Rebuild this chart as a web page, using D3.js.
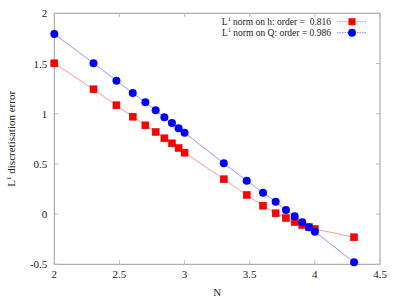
<!DOCTYPE html>
<html><head><meta charset="utf-8">
<script src="https://cdn.jsdelivr.net/npm/d3@7"></script>
<style>body{margin:0;background:#fff}svg{display:block}</style>
</head><body><svg id="c" width="400" height="300" font-family="'Liberation Serif', 'DejaVu Serif', Times, serif"></svg>
<script>
const logN = [2, 2.301, 2.477, 2.602, 2.699, 2.778, 2.845, 2.903, 2.954, 3, 3.301, 3.477, 3.602, 3.699, 3.778, 3.845, 3.903, 3.954, 4, 4.301];
const errH = [1.502, 1.243, 1.084, 0.97, 0.884, 0.818, 0.755, 0.705, 0.658, 0.612, 0.347, 0.19, 0.084, 0.008, -0.039, -0.079, -0.109, -0.129, -0.148, -0.231];
const errQ = [1.794, 1.502, 1.329, 1.206, 1.114, 1.034, 0.964, 0.907, 0.855, 0.811, 0.506, 0.333, 0.213, 0.124, 0.041, -0.022, -0.082, -0.132, -0.175, -0.48];
const xTicks = [2, 2.5, 3, 3.5, 4, 4.5];
const yTicks = [-0.5, 0, 0.5, 1, 1.5, 2];
const legendH = "norm on h: order =  0.816";
const legendQ = "norm on Q: order = 0.986";

const svg = d3.select("#c");
const L = 54.3, R = 380, T = 13.3, B = 264.3;
const x = d3.scaleLinear().domain([2, 4.5]).range([L, R]);
const y = d3.scaleLinear().domain([-0.5, 2]).range([B, T]);

const g = svg.append("g");
g.append("rect").attr("x", L).attr("y", T).attr("width", R - L).attr("height", B - T)
  .attr("fill", "none").attr("stroke", "#9a9a9a").attr("stroke-width", 1);

const tl = 4;
xTicks.forEach(v => {
  g.append("line").attr("x1", x(v)).attr("x2", x(v)).attr("y1", B).attr("y2", B - tl).attr("stroke", "#bbb");
  g.append("line").attr("x1", x(v)).attr("x2", x(v)).attr("y1", T).attr("y2", T + tl).attr("stroke", "#bbb");
  g.append("text").attr("x", x(v)).attr("y", B + 14).attr("text-anchor", "middle").attr("font-size", 11).attr("fill", "#222").text(v);
});
yTicks.forEach(v => {
  g.append("line").attr("x1", L).attr("x2", L + tl).attr("y1", y(v)).attr("y2", y(v)).attr("stroke", "#bbb");
  g.append("line").attr("x1", R).attr("x2", R - tl).attr("y1", y(v)).attr("y2", y(v)).attr("stroke", "#bbb");
  g.append("text").attr("x", L - 7).attr("y", y(v) + 4).attr("text-anchor", "end").attr("font-size", 11).attr("fill", "#222").text(v);
});

g.append("text").attr("x", x(3.25)).attr("y", 296).attr("text-anchor", "middle").attr("font-size", 11).attr("fill", "#222").text("N");
const yl = g.append("text").attr("transform", `translate(15,${(T + B) / 2}) rotate(-90)`)
  .attr("text-anchor", "middle").attr("font-size", 11).attr("fill", "#222");
yl.append("tspan").text("L");
yl.append("tspan").attr("dy", -4).attr("font-size", 7).text("1");
yl.append("tspan").attr("dy", 4).text(" discretisation error");

const line = d3.line().x(d => x(d[0])).y(d => y(d[1]));
const dH = logN.map((v, i) => [v, errH[i]]);
const dQ = logN.map((v, i) => [v, errQ[i]]);

g.append("path").datum(dH).attr("d", line).attr("fill", "none").attr("stroke", "#ff8a8a").attr("stroke-width", 0.9);
g.append("path").datum(dQ).attr("d", line).attr("fill", "none").attr("stroke", "#8a8aff").attr("stroke-width", 0.9);

const s = 7;
g.selectAll(".sq").data(dH).enter().append("rect")
  .attr("x", d => x(d[0]) - s / 2).attr("y", d => y(d[1]) - s / 2)
  .attr("width", s).attr("height", s).attr("fill", "#ff0000").attr("stroke", "#cc0000").attr("stroke-width", 0.5);
g.selectAll(".ci").data(dQ).enter().append("circle")
  .attr("cx", d => x(d[0])).attr("cy", d => y(d[1])).attr("r", 4).attr("fill", "#0000ff");

function legendRow(yy, label, col, lineCol, shape) {
  const t = g.append("text").attr("x", 331).attr("y", yy + 3).attr("text-anchor", "end").attr("font-size", 9.5).attr("fill", "#222");
  t.append("tspan").text("L");
  t.append("tspan").attr("dy", -3.5).attr("font-size", 6).text("1");
  t.append("tspan").attr("dy", 3.5).attr("xml:space", "preserve").text(" " + label);
  g.append("line").attr("x1", 337).attr("x2", 367).attr("y1", yy).attr("y2", yy)
    .attr("stroke", lineCol).attr("stroke-width", 1).attr("stroke-dasharray", "1.5,1");
  if (shape === "sq") {
    g.append("rect").attr("x", 352 - s / 2).attr("y", yy - s / 2).attr("width", s).attr("height", s).attr("fill", col);
  } else {
    g.append("circle").attr("cx", 352).attr("cy", yy).attr("r", 4).attr("fill", col);
  }
}
legendRow(21.7, legendH, "#ff0000", "#ff8080", "sq");
legendRow(32.7, legendQ, "#0000ff", "#8080ff", "ci");
</script></body></html>
